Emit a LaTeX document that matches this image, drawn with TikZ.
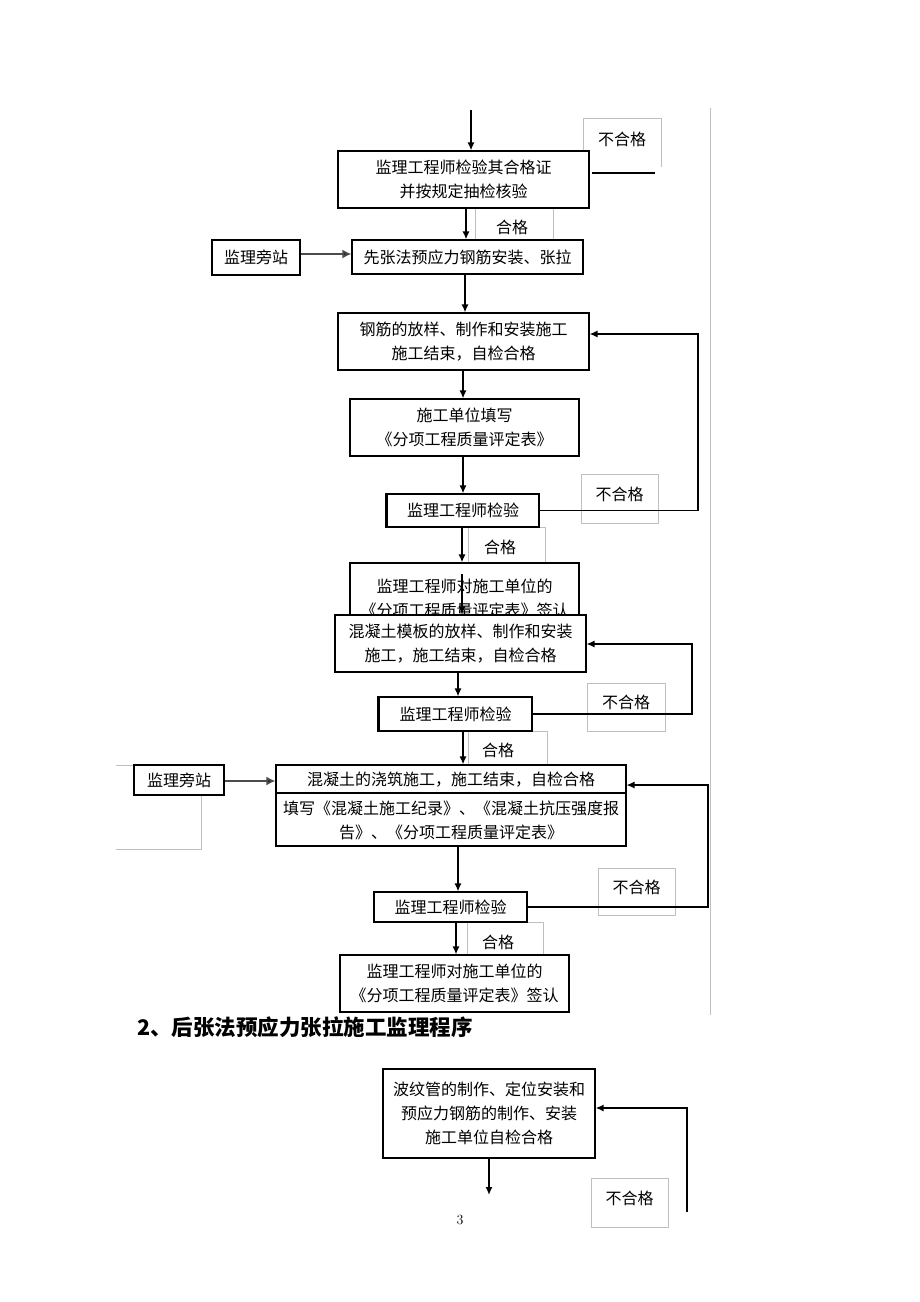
\documentclass[tikz,border=0pt]{standalone}
\usepackage{fontspec}
\newfontfamily\cjk{Noto Sans CJK SC}
\usetikzlibrary{arrows.meta}
\begin{document}
\begin{tikzpicture}[x=1pt,y=-1pt,
  box/.style={draw=black, line width=1.1pt, fill=white, inner sep=0pt, align=center, font=\cjk\fontsize{16}{24}\selectfont},
  gbox/.style={draw=black!25, line width=0.6pt, inner sep=0pt},
  lbl/.style={inner sep=0pt, font=\cjk\fontsize{16}{20}\selectfont},
  gline/.style={draw=black!25, line width=0.6pt},
  arr/.style={line width=1.5pt, -{Latex[length=8pt,width=7pt]}},
  sarr/.style={line width=2.4pt, draw=black!70, -{Latex[length=9pt,width=9pt,fill=black]}},
  fb/.style={line width=1.3pt},
  thickedge/.style={line width=2.6pt}]
\useasboundingbox[fill=white] (0,0) rectangle (920,1302);

% gray page line and bracket
\draw[gline] (710,108) -- (710,1015);
\draw[gline] (116,765) -- (134,765);
\draw[gline] (201,795) -- (201,849) -- (116,849);

% label frames (behind boxes)
\draw[gline] (583,167) |- (661,118) -- (661,167);
\node[lbl] (ng1) at (622,139) {不合格};
\node[gbox, minimum width=78pt, minimum height=36pt] (ok1f) at (514,226) {};
\node[lbl] (ok1) at (512,227) {合格};
\node[gbox, minimum width=77pt, minimum height=49pt] (ng2f) at (619.5,498.5) {};
\node[lbl] (ng2) at (619.5,494) {不合格};
\node[gbox, minimum width=77pt, minimum height=36pt] (ok2f) at (506.5,545) {};
\node[lbl] (ok2) at (500,547) {合格};
\node[gbox, minimum width=78pt, minimum height=48pt] (ng3f) at (626,707) {};
\node[lbl] (ng3) at (626,702) {不合格};
\node[gbox, minimum width=79pt, minimum height=34pt] (ok3f) at (507.5,748) {};
\node[lbl] (ok3) at (498,750) {合格};
\node[gbox, minimum width=77pt, minimum height=47pt] (ng4f) at (636.5,891.5) {};
\node[lbl] (ng4) at (636.5,887) {不合格};
\node[gbox, minimum width=76pt, minimum height=33pt] (ok4f) at (505,938.5) {};
\node[lbl] (ok4) at (498,942) {合格};
\node[gbox, minimum width=77pt, minimum height=49pt] (ng5f) at (629.5,1202.5) {};
\node[lbl] (ng5) at (629.5,1198) {不合格};

% main boxes
\node[box, minimum width=251pt, minimum height=57pt] (b1) at (463.5,179.5) {监理工程师检验其合格证\\并按规定抽检核验};
\node[box, minimum width=231pt, minimum height=34pt] (b2) at (467.5,257) {先张法预应力钢筋安装、张拉};
\node[box, minimum width=88pt, minimum height=35pt] (jp1) at (256,257.5) {监理旁站};
\node[box, minimum width=251pt, minimum height=57pt] (b3) at (463.5,341.5) {钢筋的放样、制作和安装施工\\施工结束，自检合格};
\node[box, minimum width=229pt, minimum height=57pt] (b4) at (464.5,427.5) {施工单位填写\\《分项工程质量评定表》};
\node[box, minimum width=152pt, minimum height=33pt] (b5) at (463,510.5) {监理工程师检验};
\node[box, minimum width=229pt, minimum height=70pt] (b6) at (464.5,598) {监理工程师对施工单位的\\《分项工程质量评定表》签认};
\node[box, minimum width=251pt, minimum height=57pt] (b7) at (460.5,643.5) {混凝土模板的放样、制作和安装\\施工，施工结束，自检合格};
\node[box, minimum width=153pt, minimum height=34pt] (b8) at (455.5,714) {监理工程师检验};
\node[box, minimum width=350pt, minimum height=81pt] (b9) at (451,805.5) {};
\draw[line width=1.1pt] (b9.west |- 0,793) -- (b9.east |- 0,793);
\node[box, draw=none, fill=none] (b9a) at (451,780) {混凝土的浇筑施工，施工结束，自检合格};
\node[box, draw=none, fill=none] (b9b) at (451,820.5) {填写《混凝土施工纪录》、《混凝土抗压强度报\\告》、《分项工程质量评定表》};
\node[box, minimum width=90pt, minimum height=30pt] (jp2) at (179,780) {监理旁站};
\node[box, minimum width=153pt, minimum height=30pt] (b10) at (450.5,907) {监理工程师检验};
\node[box, minimum width=229pt, minimum height=57pt] (b11) at (454.5,983.5) {监理工程师对施工单位的\\《分项工程质量评定表》签认};
\node[box, minimum width=212pt, minimum height=89pt] (b12) at (489,1113.5) {波纹管的制作、定位安装和\\预应力钢筋的制作、安装\\施工单位自检合格};

% thicker left edges
\draw[thickedge] (b5.north west) -- (b5.south west);
\draw[thickedge] (b8.north west) -- (b8.south west);

% heading and page number
\node[anchor=west, inner sep=0pt, font=\cjk\bfseries\fontsize{21.5}{24}\selectfont] (head) at (137,1027) {2、后张法预应力张拉施工监理程序};
\node[inner sep=0pt, font=\fontsize{14}{16}\selectfont] (pg) at (460,1220) {3};

% column coordinates
\coordinate (top) at (471,110);
\coordinate (c466) at (466,0);
\coordinate (c465) at (465,0);
\coordinate (c463) at (463,0);
\coordinate (c462) at (462,0);
\coordinate (c458) at (458,0);
\coordinate (c456) at (456,0);
\coordinate (in6) at (462,574);
\coordinate (end12) at (489,1195);

% main arrows
\draw[arr] (top) -- (top |- b1.north);
\draw[arr] (b1.south -| c466) -- (b2.north -| c466);
\draw[arr] (b2.south -| c465) -- (b3.north -| c465);
\draw[arr] (b3.south -| c463) -- (b4.north -| c463);
\draw[arr] (b4.south -| c463) -- (b5.north -| c463);
\draw[arr] (b5.south -| c462) -- (b6.north -| c462);
\draw[arr, line width=1.2pt] (in6) -- (in6 |- b7.north);
\draw[arr] (b7.south -| c458) -- (b8.north -| c458);
\draw[arr] (b8.south -| c463) -- (b9.north -| c463);
\draw[arr] (b9.south -| c458) -- (b10.north -| c458);
\draw[arr] (b10.south -| c456) -- (b11.north -| c456);
\draw[arr] (b12.south |- end12) ++(0,-37) -- (end12);

% side arrows
\draw[sarr] (jp1.east |- 0,254) -- (b2.west |- 0,254);
\draw[sarr] (jp2.east |- 0,781) -- (b9.west |- 0,781);

% feedback loops
\coordinate (fb0) at (655,173);
\draw[line width=2.5pt] (b1.east |- fb0) ++(2,0) -- (fb0);
\coordinate (fb1) at (698,334);
\draw[fb, -{Latex[length=8pt,width=7pt]}] (b5.east) -| (fb1) -- (fb1 -| b3.east);
\coordinate (fb2) at (692,644);
\draw[fb, -{Latex[length=8pt,width=7pt]}] (b8.east) -| (fb2) -- (fb2 -| b7.east);
\coordinate (fb3) at (708,785);
\draw[fb, -{Latex[length=8pt,width=7pt]}] (b10.east) -| (fb3) -- (fb3 -| b9.east);
\coordinate (fb4s) at (687,1212);
\coordinate (fb4) at (687,1108);
\draw[line width=1.8pt, -{Latex[length=8pt,width=7pt]}] (fb4s) -- (fb4) -- (fb4 -| b12.east);
\end{tikzpicture}
\end{document}
